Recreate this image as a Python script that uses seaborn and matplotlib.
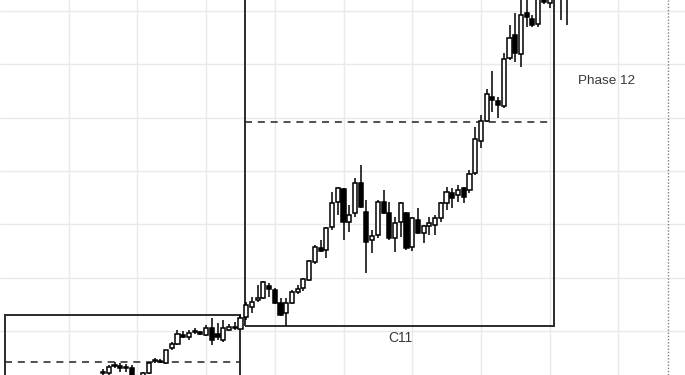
import matplotlib
matplotlib.use("Agg")
import matplotlib.pyplot as plt
from matplotlib.patches import Rectangle
import seaborn as sns
import numpy as np
import pandas as pd

# ---- data (candle index starts at 18) ----
start_index = 18
opens = [2.1, 2.1, 3.5, 3.4, 3.2, 3.0, 1.0, 1.5, 2.1, 4.6, 4.4, 4.0, 6.8, 7.6, 9.2, 8.9,
         9.8, 9.8, 9.25, 10.56, 9.4, 8.3, 10.2, 10.6, 10.4, 12.6, 14.5, 15.8, 16.2, 18.5,
         17.7, 15.2, 13.4, 15.3, 17.3, 18.0, 19.6, 23.0, 25.6, 25.2, 29.5, 34.2, 36.6, 30.4,
         32.1, 37.8, 32.3, 27.1, 28.0, 34.2, 32.1, 27.5, 30.5, 32.1, 25.8, 30.8, 28.4, 29.7,
         29.9, 31.2, 34.0, 35.9, 35.5, 36.8, 36.5, 39.6, 45.6, 49.4, 53.9, 53.2, 52.2, 61.2,
         65.5, 62.0, 69.7, 68.5, 67.6, 73.0, 71.5, 73.5, 74.0, 73.5]
highs = [2.9, 3.6, 4.2, 4.0, 3.8, 3.6, 1.6, 2.4, 4.2, 5.0, 4.7, 6.5, 8.0, 10.1, 10.0, 10.2,
         10.5, 10.0, 11.1, 12.4, 11.5, 12.0, 11.3, 11.6, 13.0, 15.4, 16.4, 18.6, 19.4, 19.0,
         18.0, 16.2, 16.2, 17.6, 18.7, 20.0, 23.3, 26.1, 27.0, 29.5, 36.1, 37.0, 36.8, 33.6,
         38.7, 41.1, 34.6, 28.9, 34.6, 36.5, 34.2, 31.4, 34.2, 32.3, 31.4, 33.1, 29.9, 31.4,
         31.8, 34.2, 37.0, 36.8, 37.4, 37.0, 40.2, 48.3, 50.5, 55.4, 58.8, 53.9, 62.2, 67.4,
         69.7, 72.5, 72.8, 69.3, 73.0, 74.0, 73.5, 75.0, 75.0, 74.5]
lows = [1.6, 1.8, 3.0, 2.3, 2.3, 0.8, 0.5, 1.0, 1.9, 4.0, 4.0, 3.9, 6.4, 7.3, 8.7, 8.3,
        9.4, 9.2, 9.1, 7.4, 8.3, 7.9, 10.0, 10.2, 10.2, 12.0, 13.4, 15.4, 16.0, 16.4,
        15.0, 12.9, 10.94, 15.0, 17.0, 17.5, 19.4, 22.6, 24.8, 23.7, 29.0, 31.8, 27.1, 28.6,
        31.4, 33.1, 20.9, 24.6, 27.5, 32.0, 27.1, 24.8, 27.6, 25.2, 25.0, 28.2, 26.5, 28.0,
        28.0, 30.4, 32.7, 33.1, 34.2, 34.0, 35.9, 39.3, 44.3, 49.2, 51.1, 50.0, 51.8, 60.8,
        60.5, 59.5, 67.0, 67.0, 67.0, 71.4, 70.6, 72.5, 68.35, 67.4]
closes = [2.2, 3.25, 3.6, 3.0, 3.1, 1.2, 1.3, 2.2, 4.0, 4.4, 4.2, 6.4, 7.6, 9.4, 8.9, 9.6,
          9.9, 9.4, 10.56, 8.3, 8.9, 10.56, 10.75, 10.8, 12.5, 14.9, 15.4, 16.1, 19.2, 17.8,
          15.2, 13.0, 15.3, 17.3, 17.9, 19.7, 23.1, 25.8, 25.0, 29.3, 34.0, 36.8, 30.4, 31.8,
          37.8, 33.3, 26.7, 27.8, 34.2, 32.1, 27.5, 30.3, 34.0, 25.6, 31.2, 28.4, 29.7, 30.3,
          31.2, 34.0, 36.1, 35.0, 36.5, 35.1, 39.5, 46.0, 49.4, 54.5, 53.3, 52.4, 61.0, 65.0,
          62.2, 69.3, 68.9, 67.4, 72.5, 71.7, 72.5, 74.5, 73.0, 73.0]

# phase boxes: (left, right, bottom, top), mid dashed level, label
box_left = [0.87, 42.8]
box_right = [41.9, 96.8]
box_bottom = [-10.0, 10.94]
box_top = [13.0, 90.0]
box_mid = [4.18, 49.27]
box_label = ["", "C11"]
label_pos = [(69.9, 8.7)]
phase_label = "Phase 12"
phase_pos = (106.0, 56.9)
phase_line = 116.7

# ---- figure ----
sns.set_theme(style="whitegrid")
plt.rcParams['font.family'] = ['Liberation Sans', 'DejaVu Sans']

fig = plt.figure(figsize=(6.85, 3.75), dpi=100)
ax = fig.add_axes([0, 0, 1, 1])
ax.set_facecolor("white")

df = pd.DataFrame({"x": np.arange(start_index, start_index + len(opens)),
                   "open": opens, "high": highs, "low": lows, "close": closes})
df["up"] = df["close"] >= df["open"]
df["bottom"] = df[["open", "close"]].min(axis=1)
df["height"] = (df["close"] - df["open"]).abs().clip(lower=0.12)

# wicks
ax.vlines(df["x"], df["low"], df["high"], color="black", lw=1.1, zorder=3)
# bodies
ax.bar(df["x"], df["height"], bottom=df["bottom"], width=0.72,
       color=np.where(df["up"], "white", "black"), edgecolor="black",
       linewidth=1.1, zorder=4)

# boxes
for l, r, b, t, m in zip(box_left, box_right, box_bottom, box_top, box_mid):
    ax.add_patch(Rectangle((l, b), r - l, t - b, fill=False, ec="#2b2b2b",
                           lw=1.4, zorder=2))
    ax.hlines(m, l, r, colors="#222222", lw=1.1, linestyles=(0, (4.6, 3.8)), zorder=2)

ax.text(label_pos[0][0], label_pos[0][1], box_label[1], ha="center", va="center",
        fontsize=10, color="#383838")
ax.text(phase_pos[0], phase_pos[1], phase_label, ha="center", va="center",
        fontsize=9.7, color="#383838")
ax.axvline(phase_line, color="#808080", lw=1.0, linestyle=(0, (1, 1.3)), zorder=2)

# axes / grid
ax.set_xlim(0, 119.65)
ax.set_ylim(1.745, 72.1)
ax.set_xticks(np.arange(12, 120, 12))
ax.set_yticks(np.arange(10, 80, 10))
ax.tick_params(labelbottom=False, labelleft=False, length=0)
ax.grid(True, color="#e9e9e9", lw=1.0)
ax.set_axisbelow(True)
for s in ax.spines.values():
    s.set_visible(False)

fig.savefig("out.png", dpi=100)
